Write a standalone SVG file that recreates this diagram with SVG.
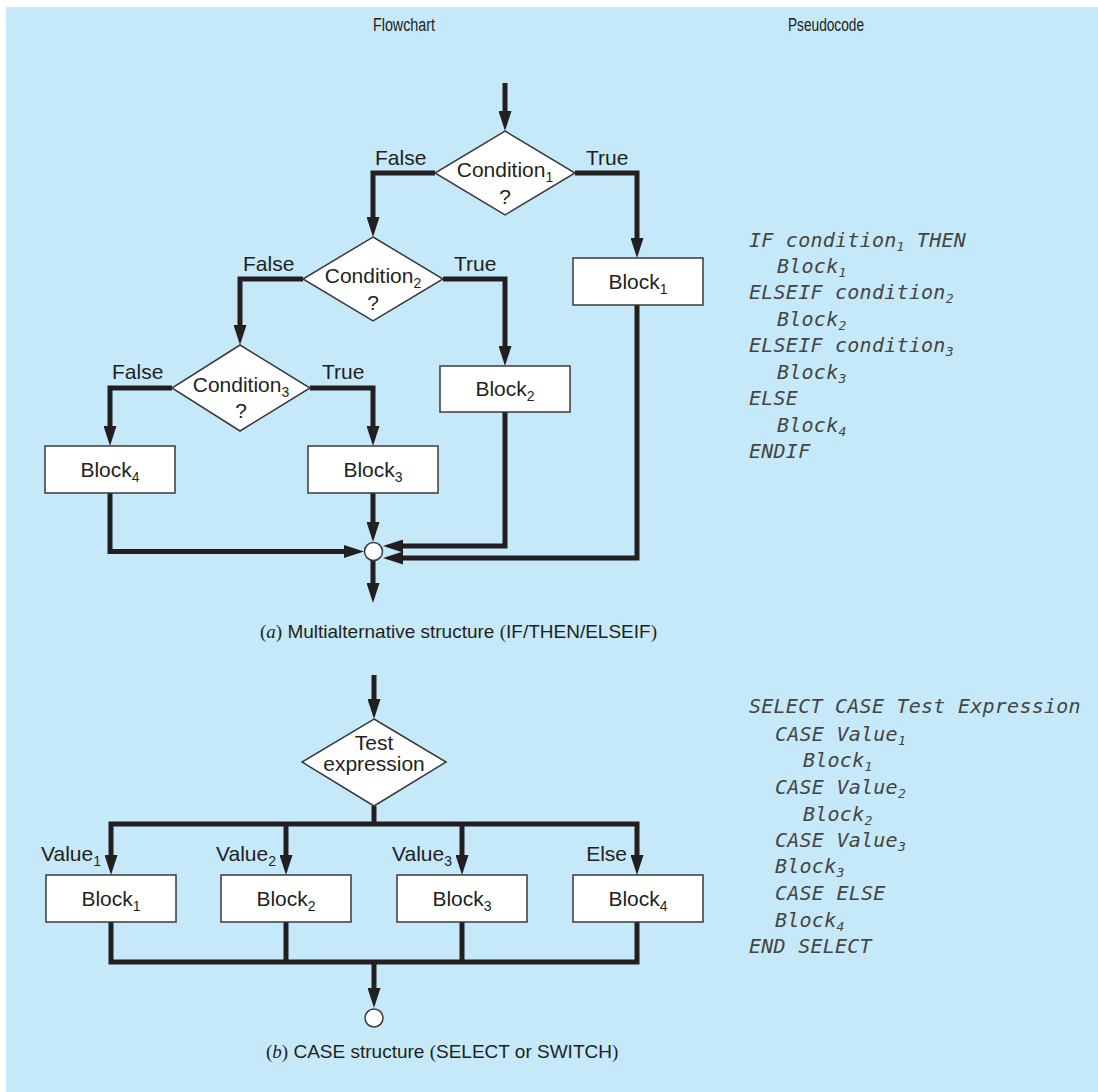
<svg xmlns="http://www.w3.org/2000/svg" width="1098" height="1092" viewBox="0 0 1098 1092">
<defs>
<marker id="ah" markerUnits="userSpaceOnUse" markerWidth="20" markerHeight="13" refX="8" refY="6.5" orient="auto-start-reverse">
<polygon points="0,0 20,6.5 0,13" fill="#231f20"/>
</marker>
<style>
.bg{fill:#c6e9f9}
.c{fill:none;stroke:#231f20;stroke-width:5;stroke-linejoin:miter}
.ca{fill:none;stroke:#231f20;stroke-width:5;stroke-linejoin:miter;marker-end:url(#ah)}
.box{fill:#fff;stroke:#3a3a3a;stroke-width:1.5}
.t{font-family:"Liberation Sans",Arial,sans-serif;font-size:21px;fill:#231f20}
.m{text-anchor:middle}
.e{text-anchor:end}
.h{font-family:"Liberation Sans",Arial,sans-serif;font-size:18px;fill:#231f20;text-anchor:middle}
.cap{font-family:"Liberation Sans",Arial,sans-serif;font-size:19px;fill:#231f20}
.ser{font-family:"Liberation Serif","Times New Roman",serif}
.p{font-family:"DejaVu Sans Mono","Liberation Mono",monospace;font-style:italic;font-size:20px;letter-spacing:0.25px;fill:#444}
.s{font-size:14px}
.ps{font-size:13px}
</style>
</defs>
<rect class="bg" x="6" y="7" width="1092" height="1085"/>

<text class="h" x="404" y="31" textLength="62" lengthAdjust="spacingAndGlyphs">Flowchart</text>
<text class="h" x="826" y="31" textLength="76" lengthAdjust="spacingAndGlyphs">Pseudocode</text>

<g id="connectors">
<path class="ca" d="M505,83 V119"/>
<path class="ca" d="M435,173 H373 V225"/>
<path class="ca" d="M575,173 H637 V246"/>
<path class="ca" d="M303,279 H240 V333"/>
<path class="ca" d="M443,279 H505 V354"/>
<path class="ca" d="M172,388 H110 V434"/>
<path class="ca" d="M310,388 H373 V434"/>
<path class="ca" d="M110,493 V551.5 H352"/>
<path class="ca" d="M373,493 V530"/>
<path class="ca" d="M505,412 V546 H395"/>
<path class="ca" d="M637,305 V558 H395"/>
<path class="ca" d="M373,561 V591"/>

<path class="ca" d="M374,675 V707"/>
<path class="c" d="M374,806 V824"/>
<path class="ca" style="marker-start:url(#ah)" d="M111,863 V824 H637 V863"/>
<path class="ca" d="M286,822 V863"/>
<path class="ca" d="M462,822 V863"/>
<path class="c" d="M111,921 V962 H637 V921"/>
<path class="c" d="M286,921 V964"/>
<path class="c" d="M462,921 V964"/>
<path class="ca" d="M374,960 V996"/>
</g>

<g id="cond1">
<polygon class="box" points="505,131 575,173 505,215 435,173"/>
<text class="t m" x="505" y="177">Condition<tspan class="s" dy="5">1</tspan></text>
<text class="t m" x="505" y="204">?</text>
</g>
<text class="t" x="375" y="165">False</text>
<text class="t" x="586" y="165">True</text>

<g id="cond2">
<polygon class="box" points="373,237 443,279 373,321 303,279"/>
<text class="t m" x="373" y="283">Condition<tspan class="s" dy="5">2</tspan></text>
<text class="t m" x="373" y="310">?</text>
</g>
<text class="t" x="243" y="271">False</text>
<text class="t" x="454" y="271">True</text>

<g id="cond3">
<polygon class="box" points="240,345 310,388 240,431 172,388"/>
<text class="t m" x="241" y="392">Condition<tspan class="s" dy="5">3</tspan></text>
<text class="t m" x="241" y="418">?</text>
</g>
<text class="t" x="112" y="379">False</text>
<text class="t" x="322" y="379">True</text>

<g id="a-block1">
<rect class="box" x="573" y="258" width="130" height="47"/>
<text class="t m" x="638" y="289">Block<tspan class="s" dy="5">1</tspan></text>
</g>
<g id="a-block2">
<rect class="box" x="440" y="366" width="130" height="46"/>
<text class="t m" x="505" y="396">Block<tspan class="s" dy="5">2</tspan></text>
</g>
<g id="a-block3">
<rect class="box" x="308" y="446" width="130" height="47"/>
<text class="t m" x="373" y="477">Block<tspan class="s" dy="5">3</tspan></text>
</g>
<g id="a-block4">
<rect class="box" x="45" y="446" width="130" height="47"/>
<text class="t m" x="110" y="477">Block<tspan class="s" dy="5">4</tspan></text>
</g>
<g id="merge-a">
<circle class="box" cx="373.5" cy="551.5" r="9"/>
</g>

<text class="cap" x="260" y="638"><tspan class="ser">(<tspan font-style="italic">a</tspan>)</tspan> Multialternative structure <tspan class="ser">(</tspan>IF/THEN/ELSEIF<tspan class="ser">)</tspan></text>

<g id="pseudo-a">
<text class="p" x="749" y="247">IF condition<tspan class="ps" dy="4">1</tspan><tspan dy="-4"> THEN</tspan></text>
<text class="p" x="777" y="273">Block<tspan class="ps" dy="4">1</tspan></text>
<text class="p" x="749" y="299">ELSEIF condition<tspan class="ps" dy="4">2</tspan></text>
<text class="p" x="777" y="326">Block<tspan class="ps" dy="4">2</tspan></text>
<text class="p" x="749" y="352">ELSEIF condition<tspan class="ps" dy="4">3</tspan></text>
<text class="p" x="777" y="379">Block<tspan class="ps" dy="4">3</tspan></text>
<text class="p" x="749" y="405">ELSE</text>
<text class="p" x="777" y="432">Block<tspan class="ps" dy="4">4</tspan></text>
<text class="p" x="749" y="458">ENDIF</text>
</g>

<g id="test">
<polygon class="box" points="374,719 446,762 374,806 302,762"/>
<text class="t m" x="374" y="750">Test</text>
<text class="t m" x="374" y="771">expression</text>
</g>
<text class="t e" x="101" y="861">Value<tspan class="s" dy="5">1</tspan></text>
<text class="t e" x="276" y="861">Value<tspan class="s" dy="5">2</tspan></text>
<text class="t e" x="452" y="861">Value<tspan class="s" dy="5">3</tspan></text>
<text class="t e" x="627" y="861">Else</text>

<g id="b-block1">
<rect class="box" x="46" y="875" width="130" height="47"/>
<text class="t m" x="111" y="906">Block<tspan class="s" dy="5">1</tspan></text>
</g>
<g id="b-block2">
<rect class="box" x="221" y="875" width="130" height="47"/>
<text class="t m" x="286" y="906">Block<tspan class="s" dy="5">2</tspan></text>
</g>
<g id="b-block3">
<rect class="box" x="397" y="875" width="130" height="47"/>
<text class="t m" x="462" y="906">Block<tspan class="s" dy="5">3</tspan></text>
</g>
<g id="b-block4">
<rect class="box" x="573" y="875" width="130" height="47"/>
<text class="t m" x="638" y="906">Block<tspan class="s" dy="5">4</tspan></text>
</g>
<g id="merge-b">
<circle class="box" cx="374" cy="1018" r="9"/>
</g>

<text class="cap" x="266" y="1058"><tspan class="ser">(<tspan font-style="italic">b</tspan>)</tspan> CASE structure <tspan class="ser">(</tspan>SELECT or SWITCH<tspan class="ser">)</tspan></text>

<g id="pseudo-b">
<text class="p" x="749" y="713">SELECT CASE Test Expression</text>
<text class="p" x="775" y="741">CASE Value<tspan class="ps" dy="4">1</tspan></text>
<text class="p" x="803" y="767">Block<tspan class="ps" dy="4">1</tspan></text>
<text class="p" x="775" y="794">CASE Value<tspan class="ps" dy="4">2</tspan></text>
<text class="p" x="803" y="821">Block<tspan class="ps" dy="4">2</tspan></text>
<text class="p" x="775" y="847">CASE Value<tspan class="ps" dy="4">3</tspan></text>
<text class="p" x="775" y="873">Block<tspan class="ps" dy="4">3</tspan></text>
<text class="p" x="775" y="900">CASE ELSE</text>
<text class="p" x="775" y="927">Block<tspan class="ps" dy="4">4</tspan></text>
<text class="p" x="749" y="953">END SELECT</text>
</g>
</svg>
